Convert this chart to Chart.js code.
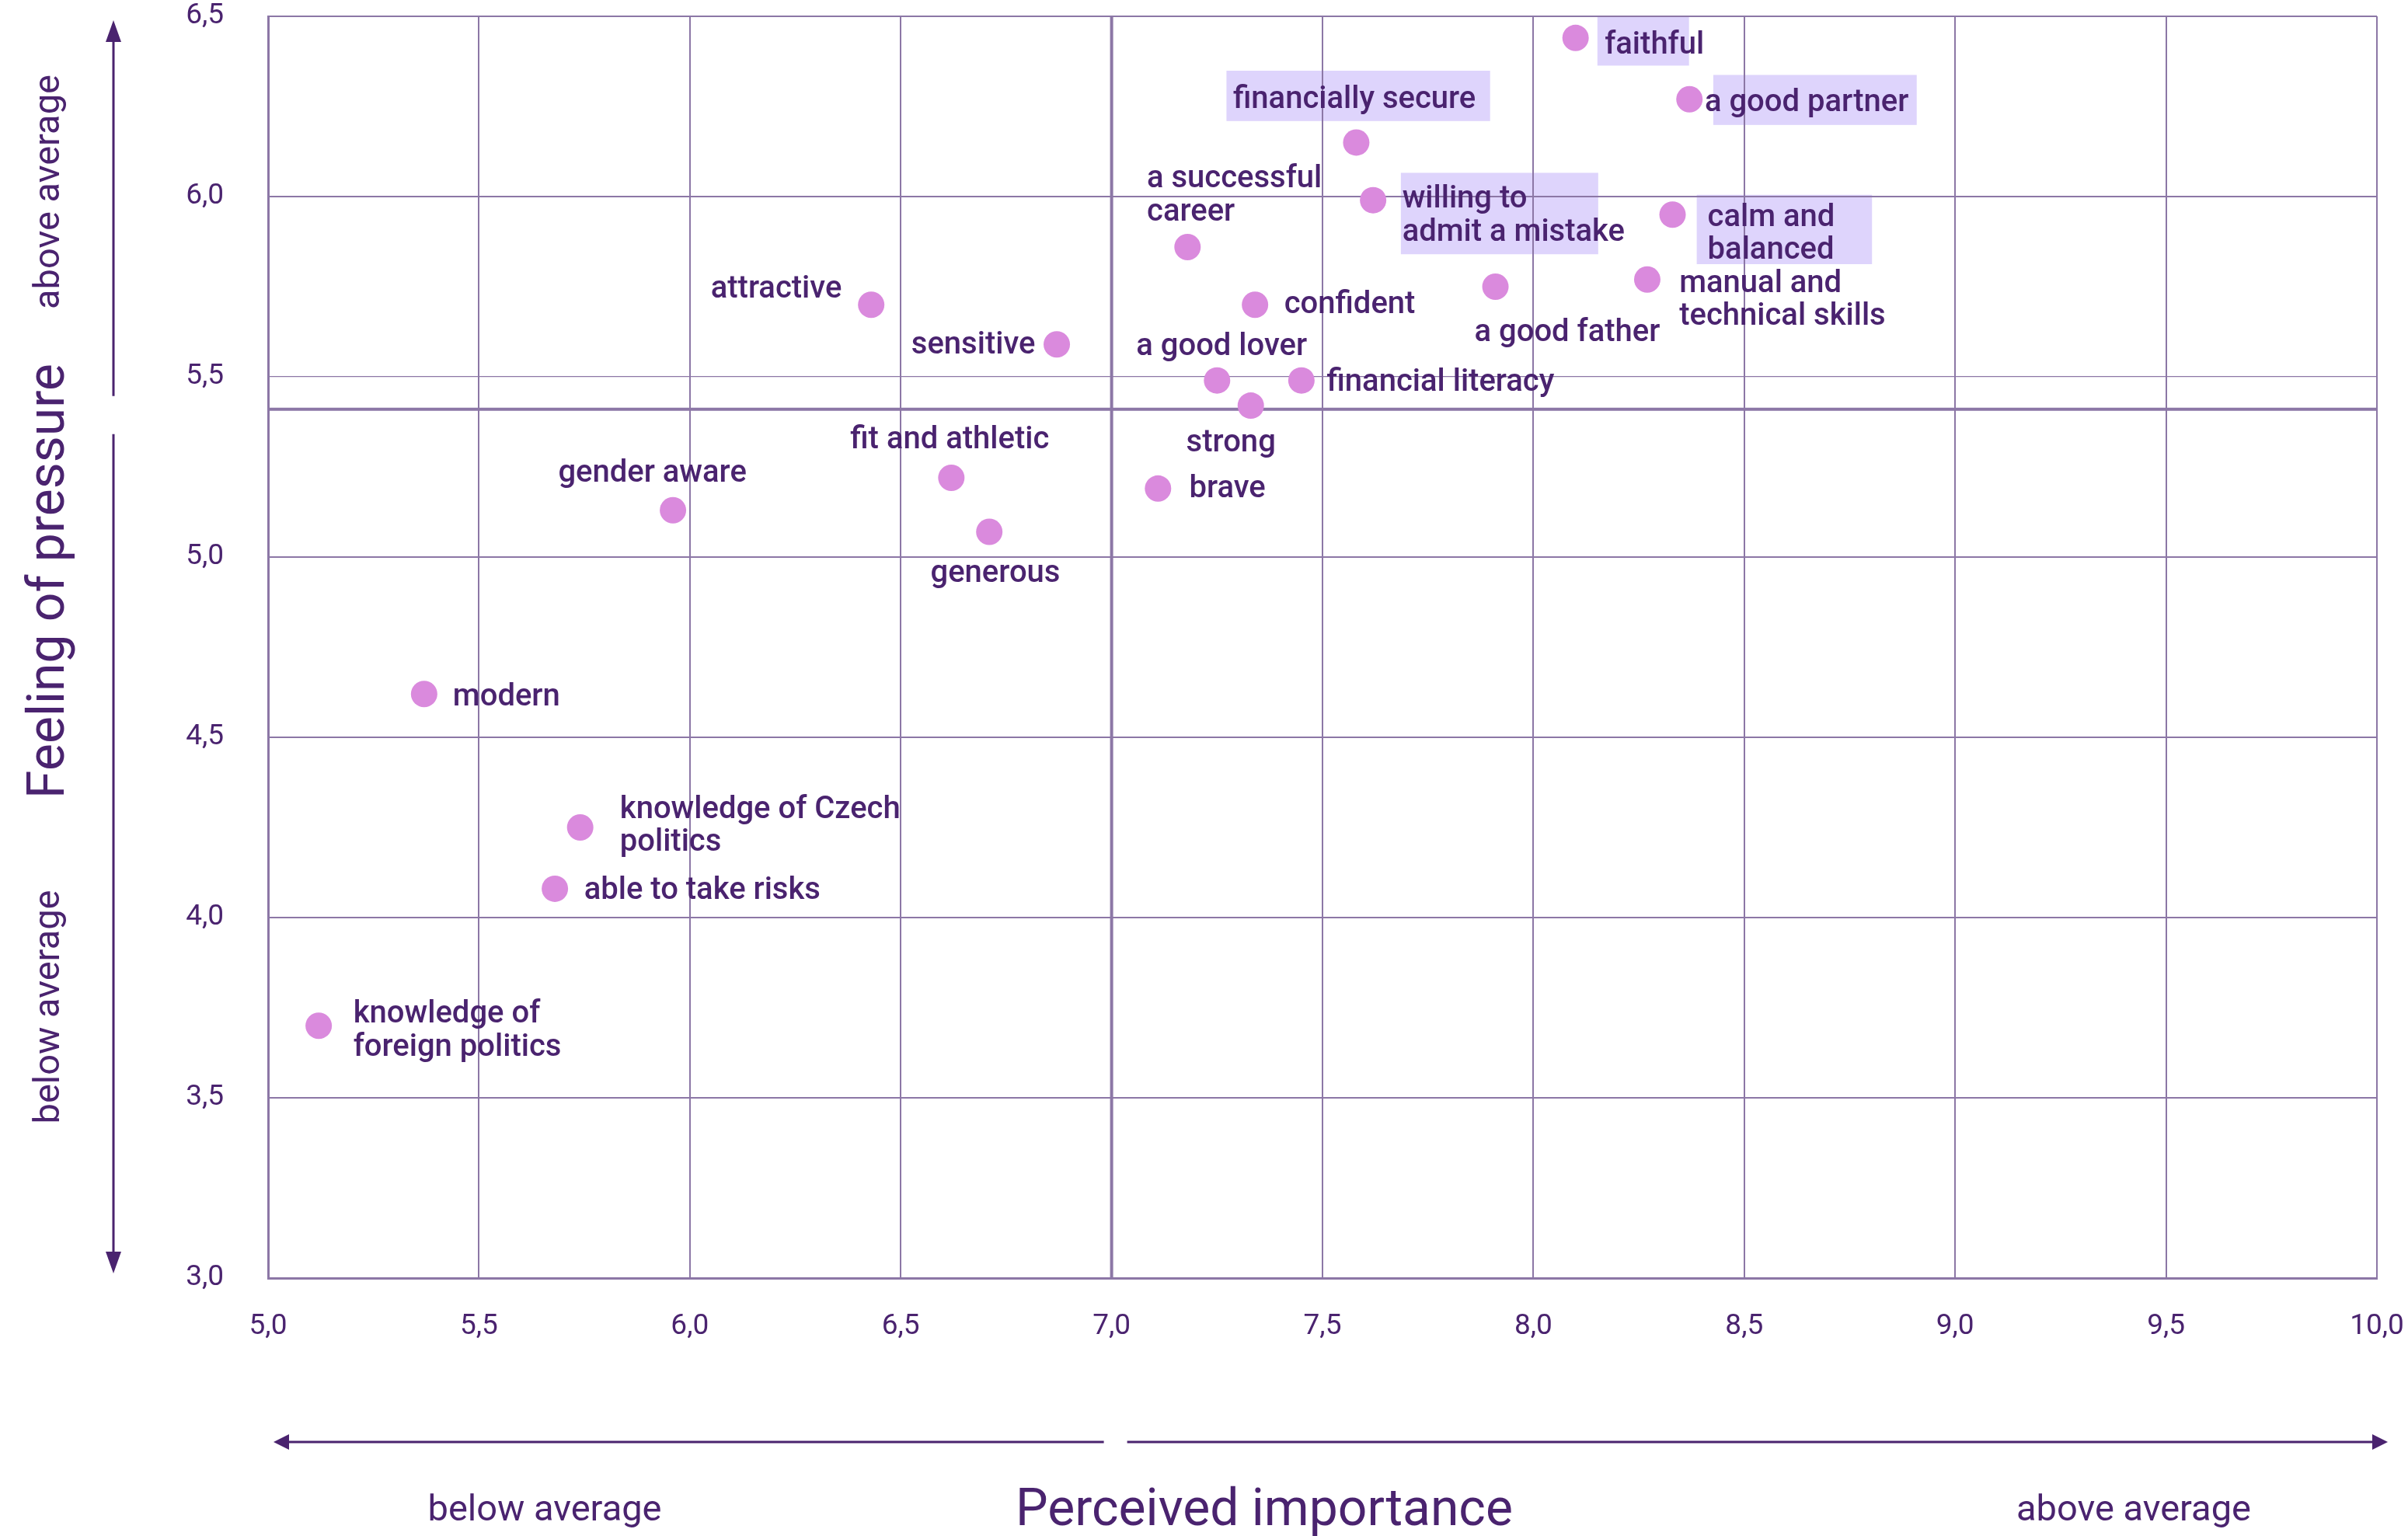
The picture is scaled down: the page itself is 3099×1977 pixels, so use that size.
<!DOCTYPE html>
<html>
<head>
<meta charset="utf-8">
<script src="https://cdn.jsdelivr.net/npm/chart.js@4.4.1/dist/chart.umd.min.js"></script>
<style>
  html, body { margin: 0; padding: 0; background: #ffffff; }
  #wrap { width: 3099px; height: 1977px; position: relative; }
  canvas { display: block; }
</style>
</head>
<body>
<div id="wrap"><canvas id="c" width="3099" height="1977"></canvas></div>
<script>
// ---------- DATA ----------
const traitLabels = [
  ['faithful'],
  ['a good partner'],
  ['financially secure'],
  ['willing to', 'admit a mistake'],
  ['a successful', 'career'],
  ['calm and', 'balanced'],
  ['a good father'],
  ['manual and', 'technical skills'],
  ['confident'],
  ['attractive'],
  ['sensitive'],
  ['a good lover'],
  ['financial literacy'],
  ['strong'],
  ['fit and athletic'],
  ['brave'],
  ['gender aware'],
  ['generous'],
  ['modern'],
  ['knowledge of Czech', 'politics'],
  ['able to take risks'],
  ['knowledge of', 'foreign politics']
];
const perceivedImportance = [8.10, 8.37, 7.58, 7.62, 7.18, 8.33, 7.91, 8.27, 7.34, 6.43, 6.87,
  7.25, 7.45, 7.33, 6.62, 7.11, 5.96, 6.71, 5.37, 5.74, 5.68, 5.12];
const feelingOfPressure = [6.44, 6.27, 6.15, 5.99, 5.86, 5.95, 5.75, 5.77, 5.70, 5.70, 5.59,
  5.49, 5.49, 5.42, 5.22, 5.19, 5.13, 5.07, 4.62, 4.25, 4.08, 3.70];
const highlightedTraits = ['faithful', 'a good partner', 'financially secure', 'willing to', 'calm and'];
const meanImportance = 7.0;
const meanPressure = 5.41;
const xTickValues = [5.0, 5.5, 6.0, 6.5, 7.0, 7.5, 8.0, 8.5, 9.0, 9.5, 10.0];
const yTickValues = [3.0, 3.5, 4.0, 4.5, 5.0, 5.5, 6.0, 6.5];
const xTitle = 'Perceived importance';
const yTitle = 'Feeling of pressure';
const lowText = 'below average';
const highText = 'above average';

// ---------- LABEL LAYOUT (pixel offsets from each point; styles only) ----------
// dx, dy: text anchor (left or right edge, first baseline) relative to the point
// box: highlight rect relative to the text anchor [left, top, right, bottom]
const labelLayout = [
  { dx: 37.5, dy: 20, align: 'left', box: [-9.4, -47, 108.5, 15.6] },
  { dx: 19.7, dy: 15.7, align: 'left', box: [11, -47, 272.8, 17.4] },
  { dx: -158.5, dy: -44.1, align: 'left', box: [-8.5, -48.3, 330.8, 16.5] },
  { dx: 37.5, dy: 9.4, align: 'left', box: [-1.8, -44.6, 252.2, 60.2] },
  { dx: -52.3, dy: -76.8, align: 'left' },
  { dx: 45.1, dy: 14.7, align: 'left', box: [-14, -40.2, 211.6, 49.1] },
  { dx: -27, dy: 70.2, align: 'left' },
  { dx: 41.2, dy: 16.1, align: 'left' },
  { dx: 37.5, dy: 11.1, align: 'left' },
  { dx: -37.9, dy: -9.6, align: 'right' },
  { dx: -27.6, dy: 11.5, align: 'right' },
  { dx: -104, dy: -33.1, align: 'left' },
  { dx: 32.6, dy: 13.8, align: 'left' },
  { dx: -83.1, dy: 58.5, align: 'left' },
  { dx: -130.1, dy: -37.9, align: 'left' },
  { dx: 40.2, dy: 11.2, align: 'left' },
  { dx: -147.7, dy: -37, align: 'left' },
  { dx: -75.7, dy: 64.3, align: 'left' },
  { dx: 37, dy: 14.3, align: 'left' },
  { dx: 51.1, dy: -12.5, align: 'left' },
  { dx: 37.6, dy: 12.8, align: 'left' },
  { dx: 44.6, dy: -4.1, align: 'left' }
];

const TEXT = '#4A236F';
const GRID = '#8C77A6';
const DOT = '#DA8ADD';
const BOX = '#DED4FC';
const FAMILY = 'Roboto, "Noto Sans", sans-serif';
const LABEL_FONT = '500 40px ' + FAMILY;
const LINE_H = 42.5;
const TARGET_AREA = { left: 345, top: 21, right: 3059, bottom: 1645 };

const points = perceivedImportance.map((v, i) => ({ x: v, y: feelingOfPressure[i] }));
const fmt = v => Number(v).toFixed(1).replace('.', ',');

function arrowHead(ctx, tx, ty, dirx, diry, len, half) {
  const px = -diry, py = dirx;
  ctx.beginPath();
  ctx.moveTo(tx, ty);
  ctx.lineTo(tx - dirx * len + px * half, ty - diry * len + py * half);
  ctx.lineTo(tx - dirx * len - px * half, ty - diry * len - py * half);
  ctx.closePath();
  ctx.fill();
}

const decor = {
  id: 'decor',
  beforeDraw(chart) {
    const ctx = chart.ctx;
    const meta = chart.getDatasetMeta(0);
    ctx.save();
    ctx.fillStyle = BOX;
    meta.data.forEach((el, i) => {
      const L = labelLayout[i];
      if (!L.box || !highlightedTraits.includes(traitLabels[i][0])) return;
      const ax = el.x + L.dx, ay = el.y + L.dy;
      ctx.fillRect(ax + L.box[0], ay + L.box[1], L.box[2] - L.box[0], L.box[3] - L.box[1]);
    });
    ctx.restore();
  },
  beforeDatasetsDraw(chart) {
    const ctx = chart.ctx;
    const xs = chart.scales.x, ys = chart.scales.y;
    const a = chart.chartArea;
    ctx.save();
    ctx.strokeStyle = GRID;
    ctx.lineWidth = 4;
    const mx = xs.getPixelForValue(meanImportance);
    const my = ys.getPixelForValue(meanPressure);
    ctx.beginPath();
    ctx.moveTo(mx, a.top); ctx.lineTo(mx, a.bottom);
    ctx.moveTo(a.left, my); ctx.lineTo(a.right, my);
    ctx.stroke();
    ctx.restore();
  },
  afterDatasetsDraw(chart) {
    const ctx = chart.ctx;
    const meta = chart.getDatasetMeta(0);
    ctx.save();
    ctx.fillStyle = TEXT;
    ctx.font = LABEL_FONT;
    ctx.textBaseline = 'alphabetic';
    meta.data.forEach((el, i) => {
      const L = labelLayout[i];
      ctx.textAlign = L.align;
      traitLabels[i].forEach((line, k) => {
        ctx.fillText(line, el.x + L.dx, el.y + L.dy + k * LINE_H);
      });
    });
    ctx.restore();
  },
  afterDraw(chart) {
    const ctx = chart.ctx;
    const a = chart.chartArea;
    const xs = chart.scales.x, ys = chart.scales.y;
    const mx = xs.getPixelForValue(meanImportance);
    const my = ys.getPixelForValue(meanPressure);
    ctx.save();
    ctx.strokeStyle = TEXT;
    ctx.fillStyle = TEXT;
    ctx.lineWidth = 3;
    // vertical arrow
    const vx = 146;
    const topTip = a.top + 5, botTip = a.bottom - 6;
    ctx.beginPath();
    ctx.moveTo(vx, topTip + 20); ctx.lineTo(vx, my - 17);
    ctx.moveTo(vx, my + 32); ctx.lineTo(vx, botTip - 20);
    ctx.stroke();
    arrowHead(ctx, vx, topTip, 0, -1, 28, 10);
    arrowHead(ctx, vx, botTip, 0, 1, 28, 10);
    // horizontal arrow
    const hy = 1856;
    const leftTip = a.left + 7, rightTip = a.right + 14;
    ctx.beginPath();
    ctx.moveTo(leftTip + 15, hy); ctx.lineTo(mx - 10, hy);
    ctx.moveTo(mx + 20, hy); ctx.lineTo(rightTip - 15, hy);
    ctx.stroke();
    arrowHead(ctx, leftTip, hy, -1, 0, 20, 10);
    arrowHead(ctx, rightTip, hy, 1, 0, 20, 10);

    // titles
    ctx.textBaseline = 'alphabetic';
    ctx.textAlign = 'center';
    ctx.font = '400 47px ' + FAMILY;
    ctx.fillText(lowText, 701, 1957);
    ctx.fillText(highText, 2746, 1957);
    ctx.font = '400 66px ' + FAMILY;
    ctx.fillText(xTitle, 1627, 1963);

    // rotated
    const rot = (txt, font, bx, cy) => {
      ctx.save();
      ctx.translate(bx, cy);
      ctx.rotate(-Math.PI / 2);
      ctx.font = font;
      ctx.textAlign = 'center';
      ctx.fillText(txt, 0, 0);
      ctx.restore();
    };
    rot(yTitle, '400 66px ' + FAMILY, 82, 748);
    rot(highText, '400 47px ' + FAMILY, 76, 247);
    rot(lowText, '400 47px ' + FAMILY, 76, 1296);
    ctx.restore();
  }
};

const chart = new Chart(document.getElementById('c'), {
  type: 'scatter',
  data: {
    datasets: [{
      data: points,
      pointRadius: 17,
      pointHoverRadius: 17,
      pointBackgroundColor: DOT,
      pointBorderWidth: 0,
      borderWidth: 0
    }]
  },
  options: {
    responsive: false,
    devicePixelRatio: 1,
    animation: false,
    events: [],
    layout: { autoPadding: false, padding: { left: 0, top: 21, right: 40, bottom: 0 } },
    plugins: { legend: { display: false }, tooltip: { enabled: false } },
    scales: {
      x: {
        type: 'linear', min: 5, max: 10,
        afterBuildTicks: s => { s.ticks = xTickValues.map(v => ({ value: v })); },
        afterFit: s => { s.height = 332; s.paddingLeft = 0; s.paddingRight = 0; s.paddingTop = 0; s.paddingBottom = 0; },
        grid: { color: GRID, lineWidth: 2, drawTicks: false },
        border: { color: GRID, width: 3 },
        ticks: { color: TEXT, font: { family: FAMILY, size: 37 }, padding: 41, callback: v => fmt(v), maxRotation: 0, autoSkip: false }
      },
      y: {
        type: 'linear', min: 3, max: 6.5,
        afterBuildTicks: s => { s.ticks = yTickValues.map(v => ({ value: v })); },
        afterFit: s => { s.width = 345; s.paddingLeft = 0; s.paddingRight = 0; s.paddingTop = 0; s.paddingBottom = 0; },
        grid: { color: GRID, lineWidth: c => (c.tick && c.tick.value === 5.5 ? 1.2 : 2), drawTicks: false },
        border: { color: GRID, width: 3 },
        ticks: { color: TEXT, font: { family: FAMILY, size: 37 }, padding: 57, callback: v => fmt(v) }
      }
    }
  },
  plugins: [decor]
});

// nudge layout padding so the plot area lands where the reference has it
for (let k = 0; k < 4; k++) {
  const a = chart.chartArea;
  const p = chart.options.layout.padding;
  const dt = TARGET_AREA.top - a.top;
  const dr = a.right - TARGET_AREA.right;
  const dl = TARGET_AREA.left - a.left;
  const db = a.bottom - TARGET_AREA.bottom;
  if (Math.abs(dt) < 0.5 && Math.abs(dr) < 0.5 && Math.abs(dl) < 0.5 && Math.abs(db) < 0.5) break;
  p.top = Math.max(0, p.top + dt); p.right = Math.max(0, p.right + dr);
  p.left = Math.max(0, p.left + dl); p.bottom = Math.max(0, p.bottom + db);
  chart.update();
}
</script>
</body>
</html>
